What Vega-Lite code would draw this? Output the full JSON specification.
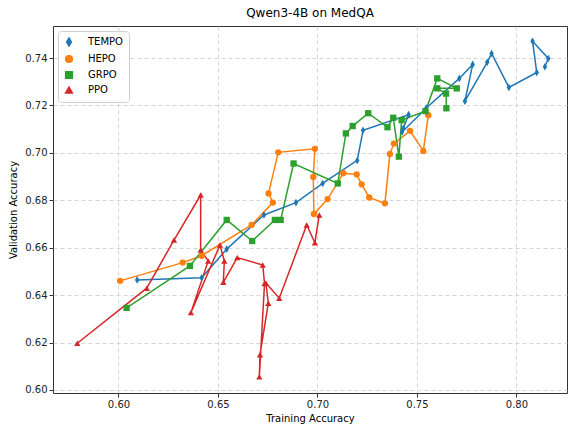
{
  "$schema": "https://vega.github.io/schema/vega-lite/v6.json",
  "width": 514,
  "height": 367,
  "autosize": {"type": "none"},
  "padding": {"left": 53, "top": 26, "right": 2, "bottom": 35},
  "background": "white",
  "title": {"text": "Qwen3-4B on MedQA", "fontSize": 12, "font": "DejaVu Sans", "fontWeight": "normal", "color": "#000", "offset": 6},
  "config": {
    "font": "DejaVu Sans",
    "view": {"stroke": "#333", "strokeWidth": 1},
    "axis": {
      "labelFont": "DejaVu Sans", "labelFontSize": 10, "labelColor": "#222",
      "titleFont": "DejaVu Sans", "titleFontSize": 10, "titleFontWeight": "normal", "titleColor": "#000",
      "gridColor": "#cccccc", "gridDash": [4, 3], "gridWidth": 0.8,
      "domain": false, "tickColor": "#333", "tickSize": 4, "labelPadding": 2
    },
    "legend": {
      "orient": "top-left", "offset": 5, "padding": 6, "fillColor": "white", "strokeColor": "#d0d0d0",
      "cornerRadius": 3, "labelFontSize": 10, "labelFont": "DejaVu Sans", "labelColor": "#000",
      "rowPadding": 2, "symbolSize": 45, "symbolStrokeWidth": 1.5, "labelOffset": 14
    }
  },
  "data": {
    "values": [
      {"method": "TEMPO", "step": 1, "train": 0.6094, "val": 0.6464},
      {"method": "TEMPO", "step": 2, "train": 0.6418, "val": 0.6473},
      {"method": "TEMPO", "step": 3, "train": 0.6544, "val": 0.6594},
      {"method": "TEMPO", "step": 4, "train": 0.6731, "val": 0.6738},
      {"method": "TEMPO", "step": 5, "train": 0.6892, "val": 0.6790},
      {"method": "TEMPO", "step": 6, "train": 0.7026, "val": 0.6871},
      {"method": "TEMPO", "step": 7, "train": 0.7200, "val": 0.6968},
      {"method": "TEMPO", "step": 8, "train": 0.7229, "val": 0.7095},
      {"method": "TEMPO", "step": 9, "train": 0.7458, "val": 0.7161},
      {"method": "TEMPO", "step": 10, "train": 0.7431, "val": 0.7103},
      {"method": "TEMPO", "step": 11, "train": 0.7425, "val": 0.7088},
      {"method": "TEMPO", "step": 12, "train": 0.7547, "val": 0.7189},
      {"method": "TEMPO", "step": 13, "train": 0.7713, "val": 0.7314},
      {"method": "TEMPO", "step": 14, "train": 0.7780, "val": 0.7373},
      {"method": "TEMPO", "step": 15, "train": 0.7741, "val": 0.7218},
      {"method": "TEMPO", "step": 16, "train": 0.7853, "val": 0.7382},
      {"method": "TEMPO", "step": 17, "train": 0.7875, "val": 0.7419},
      {"method": "TEMPO", "step": 18, "train": 0.7962, "val": 0.7276},
      {"method": "TEMPO", "step": 19, "train": 0.8102, "val": 0.7339},
      {"method": "TEMPO", "step": 20, "train": 0.8081, "val": 0.7471},
      {"method": "TEMPO", "step": 21, "train": 0.8160, "val": 0.7398},
      {"method": "TEMPO", "step": 22, "train": 0.8143, "val": 0.7363},
      {"method": "HEPO", "step": 1, "train": 0.6008, "val": 0.6460},
      {"method": "HEPO", "step": 2, "train": 0.6323, "val": 0.6537},
      {"method": "HEPO", "step": 3, "train": 0.6418, "val": 0.6566},
      {"method": "HEPO", "step": 4, "train": 0.6669, "val": 0.6696},
      {"method": "HEPO", "step": 5, "train": 0.6776, "val": 0.6790},
      {"method": "HEPO", "step": 6, "train": 0.6754, "val": 0.6829},
      {"method": "HEPO", "step": 7, "train": 0.6803, "val": 0.7002},
      {"method": "HEPO", "step": 8, "train": 0.6987, "val": 0.7017},
      {"method": "HEPO", "step": 9, "train": 0.6979, "val": 0.6898},
      {"method": "HEPO", "step": 10, "train": 0.6982, "val": 0.6742},
      {"method": "HEPO", "step": 11, "train": 0.7051, "val": 0.6805},
      {"method": "HEPO", "step": 12, "train": 0.7130, "val": 0.6914},
      {"method": "HEPO", "step": 13, "train": 0.7197, "val": 0.6909},
      {"method": "HEPO", "step": 14, "train": 0.7222, "val": 0.6867},
      {"method": "HEPO", "step": 15, "train": 0.7260, "val": 0.6812},
      {"method": "HEPO", "step": 16, "train": 0.7339, "val": 0.6787},
      {"method": "HEPO", "step": 17, "train": 0.7364, "val": 0.6995},
      {"method": "HEPO", "step": 18, "train": 0.7384, "val": 0.7039},
      {"method": "HEPO", "step": 19, "train": 0.7465, "val": 0.7093},
      {"method": "HEPO", "step": 20, "train": 0.7532, "val": 0.7008},
      {"method": "HEPO", "step": 21, "train": 0.7557, "val": 0.7159},
      {"method": "GRPO", "step": 1, "train": 0.6041, "val": 0.6346},
      {"method": "GRPO", "step": 2, "train": 0.6359, "val": 0.6523},
      {"method": "GRPO", "step": 3, "train": 0.6544, "val": 0.6717},
      {"method": "GRPO", "step": 4, "train": 0.6672, "val": 0.6628},
      {"method": "GRPO", "step": 5, "train": 0.6786, "val": 0.6717},
      {"method": "GRPO", "step": 6, "train": 0.6815, "val": 0.6717},
      {"method": "GRPO", "step": 7, "train": 0.6880, "val": 0.6955},
      {"method": "GRPO", "step": 8, "train": 0.7102, "val": 0.6871},
      {"method": "GRPO", "step": 9, "train": 0.7143, "val": 0.7082},
      {"method": "GRPO", "step": 10, "train": 0.7177, "val": 0.7113},
      {"method": "GRPO", "step": 11, "train": 0.7255, "val": 0.7167},
      {"method": "GRPO", "step": 12, "train": 0.7352, "val": 0.7108},
      {"method": "GRPO", "step": 13, "train": 0.7381, "val": 0.7148},
      {"method": "GRPO", "step": 14, "train": 0.7409, "val": 0.6984},
      {"method": "GRPO", "step": 15, "train": 0.7423, "val": 0.7138},
      {"method": "GRPO", "step": 16, "train": 0.7543, "val": 0.7176},
      {"method": "GRPO", "step": 17, "train": 0.7602, "val": 0.7314},
      {"method": "GRPO", "step": 18, "train": 0.7700, "val": 0.7272},
      {"method": "GRPO", "step": 19, "train": 0.7602, "val": 0.7272},
      {"method": "GRPO", "step": 20, "train": 0.7646, "val": 0.7250},
      {"method": "GRPO", "step": 21, "train": 0.7648, "val": 0.7188},
      {"method": "PPO", "step": 1, "train": 0.5793, "val": 0.6197},
      {"method": "PPO", "step": 2, "train": 0.6142, "val": 0.6429},
      {"method": "PPO", "step": 3, "train": 0.6279, "val": 0.6632},
      {"method": "PPO", "step": 4, "train": 0.6413, "val": 0.6822},
      {"method": "PPO", "step": 5, "train": 0.6413, "val": 0.6590},
      {"method": "PPO", "step": 6, "train": 0.6451, "val": 0.6544},
      {"method": "PPO", "step": 7, "train": 0.6364, "val": 0.6326},
      {"method": "PPO", "step": 8, "train": 0.6510, "val": 0.6611},
      {"method": "PPO", "step": 9, "train": 0.6532, "val": 0.6544},
      {"method": "PPO", "step": 10, "train": 0.6527, "val": 0.6454},
      {"method": "PPO", "step": 11, "train": 0.6597, "val": 0.6558},
      {"method": "PPO", "step": 12, "train": 0.6725, "val": 0.6527},
      {"method": "PPO", "step": 13, "train": 0.6734, "val": 0.6449},
      {"method": "PPO", "step": 14, "train": 0.6708, "val": 0.6056},
      {"method": "PPO", "step": 15, "train": 0.6711, "val": 0.6148},
      {"method": "PPO", "step": 16, "train": 0.6753, "val": 0.6366},
      {"method": "PPO", "step": 17, "train": 0.6741, "val": 0.6451},
      {"method": "PPO", "step": 18, "train": 0.6808, "val": 0.6387},
      {"method": "PPO", "step": 19, "train": 0.6946, "val": 0.6696},
      {"method": "PPO", "step": 20, "train": 0.6987, "val": 0.6621},
      {"method": "PPO", "step": 21, "train": 0.7009, "val": 0.6738}
    ]
  },
  "encoding": {
    "x": {"field": "train", "type": "quantitative", "title": "Training Accuracy",
          "scale": {"domain": [0.5671, 0.8254], "nice": false, "zero": false},
          "axis": {"values": [0.60, 0.65, 0.70, 0.75, 0.80], "format": ".2f", "titlePadding": 4}},
    "y": {"field": "val", "type": "quantitative", "title": "Validation Accuracy",
          "scale": {"domain": [0.5987, 0.7535], "nice": false, "zero": false},
          "axis": {"values": [0.60, 0.62, 0.64, 0.66, 0.68, 0.70, 0.72, 0.74], "format": ".2f", "titlePadding": 6}},
    "color": {"field": "method", "type": "nominal", "title": null,
              "scale": {"domain": ["TEMPO", "HEPO", "GRPO", "PPO"], "range": ["#1f77b4", "#ff7f0e", "#2ca02c", "#d62728"]}}
  },
  "layer": [
    {
      "mark": {"type": "line", "strokeWidth": 1.5},
      "encoding": {"order": {"field": "step", "type": "quantitative"}}
    },
    {
      "mark": {"type": "point", "filled": true, "opacity": 1, "size": 40},
      "encoding": {
        "shape": {"field": "method", "type": "nominal", "title": null,
                  "scale": {"domain": ["TEMPO", "HEPO", "GRPO", "PPO"], "range": ["M0,-1.2L0.7,0L0,1.2L-0.7,0Z", "circle", "square", "triangle-up"]}}
      }
    }
  ]
}
